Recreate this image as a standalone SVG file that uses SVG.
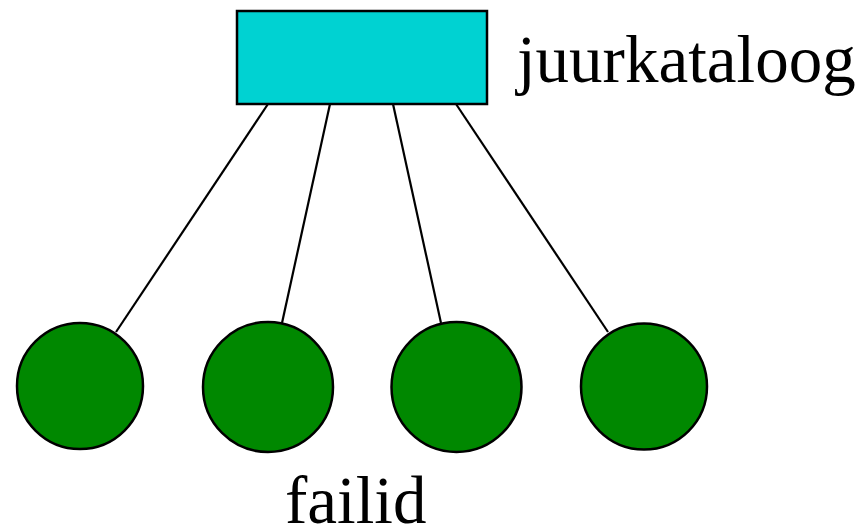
<svg xmlns="http://www.w3.org/2000/svg" width="859" height="531" viewBox="0 0 859 531">
  <style>
    .edge { stroke: #000; stroke-width: 2.2; fill: none; }
    .dir { fill: #00d2d2; stroke: #000; stroke-width: 2.5; }
    .file { fill: #008800; stroke: #000; stroke-width: 2.5; }
    .label { font-family: "Liberation Serif", "Times New Roman", serif; font-size: 67px; fill: #000; }
  </style>
  <rect width="859" height="531" fill="#fff"/>
  <g id="connectors">
    <line class="edge" x1="268" y1="104" x2="116" y2="332"/>
    <line class="edge" x1="330" y1="104" x2="282" y2="323"/>
    <line class="edge" x1="393" y1="104" x2="441" y2="323"/>
    <line class="edge" x1="456" y1="104" x2="608" y2="332"/>
  </g>
  <g id="root">
    <rect class="dir" x="237" y="11" width="250" height="93"/>
    <text class="label" x="517" y="82">juurkataloog</text>
  </g>
  <g id="file1"><circle class="file" cx="80" cy="386" r="63"/></g>
  <g id="file2"><circle class="file" cx="268" cy="387" r="65"/></g>
  <g id="file3"><circle class="file" cx="456.5" cy="387" r="65"/></g>
  <g id="file4"><circle class="file" cx="644" cy="386.5" r="63"/></g>
  <g id="files-label">
    <text class="label" x="285" y="523">failid</text>
  </g>
</svg>
